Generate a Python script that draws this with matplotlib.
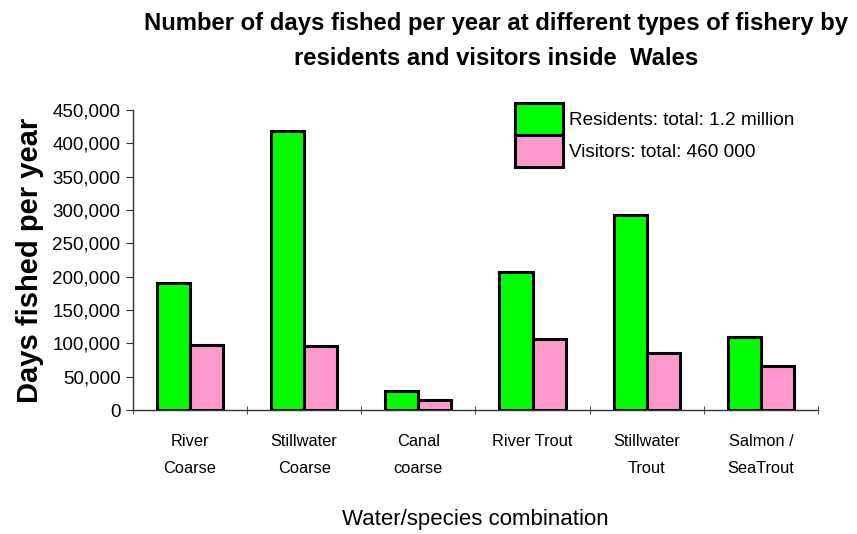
import matplotlib
matplotlib.use("Agg")
import matplotlib.pyplot as plt
import numpy as np
from matplotlib.patches import Patch
from matplotlib.ticker import FuncFormatter

categories = ["River\nCoarse", "Stillwater\nCoarse", "Canal\ncoarse",
              "River Trout\n", "Stillwater\nTrout", "Salmon /\nSeaTrout"]
residents = [190000, 418000, 28000, 207000, 293000, 110000]
visitors = [97000, 96000, 15000, 106000, 85000, 66000]
series_labels = ["Residents: total: 1.2 million", "Visitors: total: 460 000"]

plt.rcParams["font.family"] = ["Liberation Sans", "DejaVu Sans"]

fig = plt.figure(figsize=(8.57, 5.34), dpi=100)
ax = fig.add_axes([0.155, 0.232, 0.7995, 0.562])

x = np.arange(len(categories))
w = 0.29
green = "#00FF00"
pink = "#FF99CC"
ax.bar(x - w / 2, residents, w, color=green, edgecolor="black", linewidth=2.2)
ax.bar(x + w / 2, visitors, w, color=pink, edgecolor="black", linewidth=2.2)

ax.set_xlim(-0.5, len(categories) - 0.5)
ax.set_ylim(0, 450000)
ax.set_yticks(np.arange(0, 450001, 50000))
ax.yaxis.set_major_formatter(FuncFormatter(lambda v, p: f"{int(v):,}"))
ax.tick_params(axis="y", labelsize=13.5, length=5, color="#333333", pad=4)

# category labels centred, tick marks at the group boundaries
ax.set_xticks(x)
ax.set_xticklabels(categories, fontsize=11.8, linespacing=2.0)
ax.tick_params(axis="x", length=0, pad=17)
ax.set_xticks(np.arange(-0.5, len(categories)), minor=True)
ax.tick_params(axis="x", which="minor", length=6, direction="inout", color="#333333")

for s in ["top", "right"]:
    ax.spines[s].set_visible(False)
for s in ["left", "bottom"]:
    ax.spines[s].set_color("#333333")
    ax.spines[s].set_linewidth(1.0)

ax.set_ylabel("Days fished per year", fontsize=21, fontweight="bold", labelpad=6)
ax.set_xlabel("Water/species combination", fontsize=16, labelpad=24)

fig.suptitle("Number of days fished per year at different types of fishery by\n"
             "residents and visitors inside  Wales",
             fontsize=17.2, fontweight="bold", x=0.579, y=0.978, linespacing=1.7)

handles = [Patch(facecolor=green, edgecolor="black", linewidth=2.2),
           Patch(facecolor=pink, edgecolor="black", linewidth=2.2)]
ax.legend(handles, series_labels, loc="upper left", bbox_to_anchor=(0.558, 1.023),
          frameon=False, fontsize=13.7, handlelength=2.5, handleheight=2.2,
          labelspacing=0.0, handletextpad=0.35, borderpad=0.0, borderaxespad=0.0)

fig.savefig("out.png", dpi=100, facecolor="white")
